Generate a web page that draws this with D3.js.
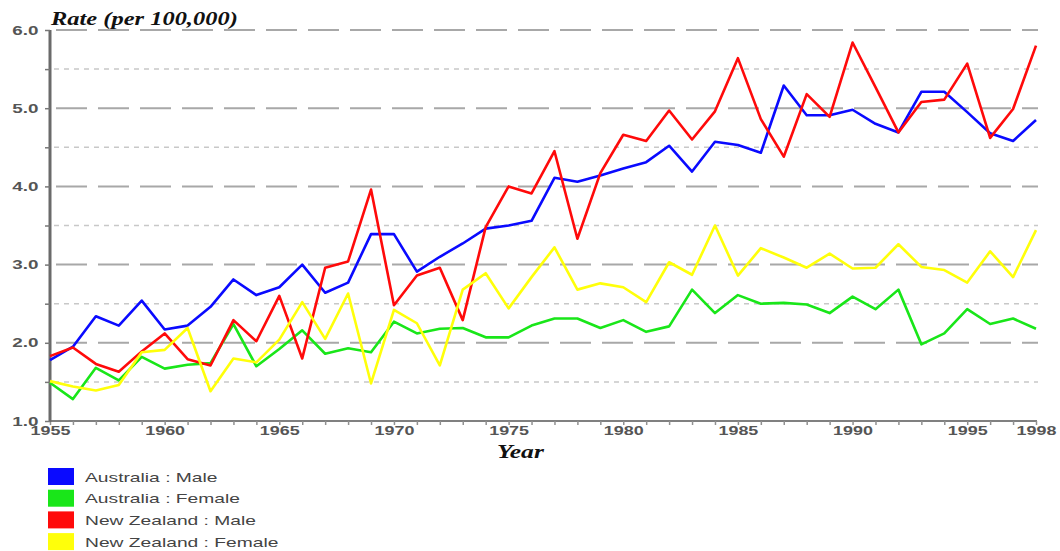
<!DOCTYPE html>
<html>
<head>
<meta charset="utf-8">
<script src="https://cdn.jsdelivr.net/npm/d3@7"></script>
<style>
  body { margin: 0; background: #fff; }
  svg { display: block; }
</style>
</head>
<body>
<svg width="1060" height="551"></svg>
<script>
const years = d3.range(1955, 1999);

const ausMale = [1.78, 1.95, 2.34, 2.22, 2.54, 2.17, 2.22, 2.46, 2.81, 2.61,
  2.71, 3.00, 2.64, 2.77, 3.39, 3.39, 2.91, 3.10, 3.27, 3.46,
  3.50, 3.56, 4.11, 4.06, 4.14, 4.23, 4.31, 4.52, 4.19, 4.57,
  4.53, 4.43, 5.29, 4.91, 4.91, 4.98, 4.80, 4.69, 5.21, 5.21,
  4.95, 4.68, 4.58, 4.85];

const ausFemale = [1.49, 1.28, 1.68, 1.52, 1.82, 1.67, 1.72, 1.74, 2.24, 1.70,
  1.92, 2.16, 1.86, 1.93, 1.88, 2.27, 2.12, 2.18, 2.19, 2.07,
  2.07, 2.22, 2.31, 2.31, 2.19, 2.29, 2.14, 2.21, 2.68, 2.38,
  2.61, 2.50, 2.51, 2.49, 2.38, 2.59, 2.43, 2.68, 1.98, 2.12,
  2.43, 2.24, 2.31, 2.18];

const nzMale = [1.83, 1.94, 1.73, 1.63, 1.89, 2.12, 1.79, 1.71, 2.29, 2.02,
  2.60, 1.80, 2.96, 3.04, 3.96, 2.48, 2.86, 2.96, 2.29, 3.48,
  4.00, 3.91, 4.45, 3.33, 4.17, 4.66, 4.58, 4.97, 4.60, 4.96,
  5.64, 4.86, 4.38, 5.18, 4.89, 5.84, 5.27, 4.69, 5.08, 5.11,
  5.57, 4.62, 4.99, 5.80];

const nzFemale = [1.51, 1.44, 1.39, 1.46, 1.88, 1.91, 2.19, 1.38, 1.80, 1.75,
  2.04, 2.52, 2.05, 2.63, 1.48, 2.42, 2.25, 1.71, 2.68, 2.89,
  2.44, 2.84, 3.22, 2.68, 2.76, 2.71, 2.52, 3.03, 2.87, 3.50,
  2.86, 3.21, 3.09, 2.96, 3.14, 2.95, 2.96, 3.26, 2.97, 2.93,
  2.77, 3.17, 2.84, 3.44];

const seriesNames = ["Australia : Male", "Australia : Female", "New Zealand : Male", "New Zealand : Female"];
const seriesColors = ["#0a0aff", "#19e619", "#ff0a0a", "#ffff0a"];
const seriesValues = [ausMale, ausFemale, nzMale, nzFemale];

const majorTicks = [1, 2, 3, 4, 5, 6];
const minorTicks = [1.5, 2.5, 3.5, 4.5, 5.5];
const labelYears = [1955, 1960, 1965, 1970, 1975, 1980, 1985, 1990, 1995, 1998];

const svg = d3.select('svg');
const plotLeft = 50, plotRight = 1036, plotTop = 30, plotBottom = 421;
const sansFont = 'Liberation Sans, Arial, sans-serif';
const serifFont = 'Liberation Serif, Times New Roman, serif';

const x = d3.scaleLinear().domain([1955, 1998]).range([plotLeft, plotRight]);
const y = d3.scaleLinear().domain([1, 6]).range([plotBottom, plotTop]);

// grid
svg.append('g').selectAll('line')
  .data(minorTicks)
  .join('line')
  .attr('x1', plotLeft + 4).attr('x2', plotRight + 2)
  .attr('y1', d => y(d)).attr('y2', d => y(d))
  .attr('stroke', '#c8c8c8')
  .attr('stroke-width', 1.5)
  .attr('stroke-dasharray', '5,5');

svg.append('g').selectAll('line')
  .data(majorTicks.filter(d => d > 1))
  .join('line')
  .attr('x1', plotLeft + 6).attr('x2', plotRight + 2)
  .attr('y1', d => y(d)).attr('y2', d => y(d))
  .attr('stroke', '#a8a8a8')
  .attr('stroke-width', 2)
  .attr('stroke-dasharray', '31,11');

// axes
const xAxis = d3.axisBottom(x)
  .tickValues(years)
  .tickSize(4)
  .tickFormat(d => labelYears.includes(d) ? d : '');

const yAxis = d3.axisLeft(y)
  .tickValues(majorTicks.concat(minorTicks))
  .tickSize(5)
  .tickFormat(d => majorTicks.includes(d) ? d3.format('.1f')(d) : '');

const gx = svg.append('g')
  .attr('transform', 'translate(0,' + plotBottom + ')')
  .call(xAxis);
gx.select('.domain').attr('stroke', '#808080').attr('stroke-width', 2)
  .attr('d', 'M' + plotLeft + ',0H' + (plotRight + 1));
gx.selectAll('.tick line').attr('stroke', '#909090').attr('stroke-width', 1.5);
gx.selectAll('.tick text')
  .attr('dy', '0.55em')
  .attr('y', 7)
  .attr('transform', 'scale(1.38,1)')
  .style('font-family', sansFont)
  .style('font-size', '13px')
  .style('font-weight', 'bold')
  .attr('fill', '#555');

const gy = svg.append('g')
  .attr('transform', 'translate(' + plotLeft + ',0)')
  .call(yAxis);
gy.select('.domain').attr('stroke', '#6a6a6a').attr('stroke-width', 3)
  .attr('d', 'M0,' + (plotBottom + 1) + 'V' + plotTop);
gy.selectAll('.tick line').attr('stroke', '#777').attr('stroke-width', 1.5);
gy.selectAll('.tick text')
  .attr('x', -8)
  .attr('transform', 'scale(1.45,1)')
  .style('font-family', sansFont)
  .style('font-size', '13px')
  .style('font-weight', 'bold')
  .attr('fill', '#555');

// lines
const line = d3.line()
  .x((d, i) => x(years[i]))
  .y(d => y(d));

svg.append('g').selectAll('path')
  .data(seriesValues)
  .join('path')
  .attr('d', line)
  .attr('fill', 'none')
  .attr('stroke', (d, i) => seriesColors[i])
  .attr('stroke-width', 2.6)
  .attr('stroke-linejoin', 'round');

// titles
svg.append('text')
  .attr('transform', 'translate(51,25) scale(1.36,1)')
  .style('font-family', serifFont)
  .style('font-size', '18px')
  .style('font-weight', 'bold')
  .style('font-style', 'italic')
  .attr('fill', '#111')
  .text('Rate (per 100,000)');

svg.append('text')
  .attr('transform', 'translate(497,458) scale(1.42,1)')
  .style('font-family', serifFont)
  .style('font-size', '18px')
  .style('font-weight', 'bold')
  .style('font-style', 'italic')
  .attr('fill', '#111')
  .text('Year');

// legend
const legend = svg.append('g');
const rows = legend.selectAll('g')
  .data(seriesNames)
  .join('g')
  .attr('transform', (d, i) => 'translate(48,' + (468 + i * 21.7) + ')');

rows.append('rect')
  .attr('width', 26)
  .attr('height', 17)
  .attr('fill', (d, i) => seriesColors[i]);

rows.append('text')
  .attr('transform', 'translate(37,9) scale(1.48,1)')
  .attr('dy', '0.35em')
  .style('font-family', sansFont)
  .style('font-size', '13px')
  .attr('fill', '#444')
  .text(d => d);
</script>
</body>
</html>
